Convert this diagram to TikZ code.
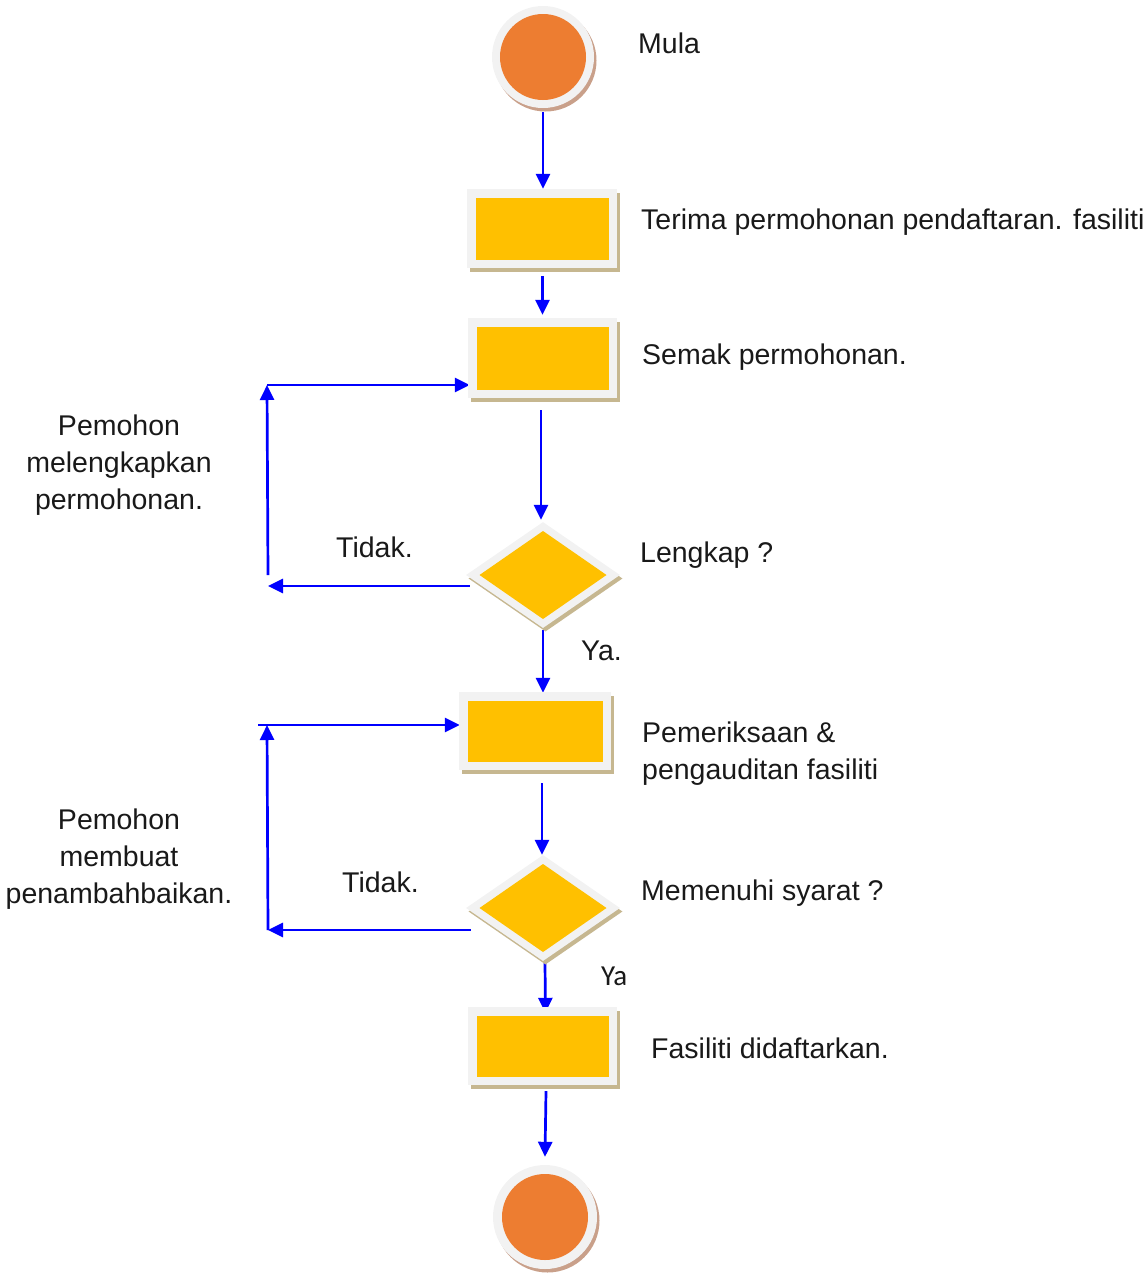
\documentclass[tikz,border=0pt]{standalone}
\usepackage{fontspec}
\setmainfont{Liberation Sans}
\newfontfamily\calfont{Carlito}
\usetikzlibrary{arrows.meta,shapes.geometric,shadows,backgrounds}
\definecolor{yel}{HTML}{FFC000}
\definecolor{orng}{HTML}{ED7D31}
\definecolor{lgray}{HTML}{F2F2F2}
\definecolor{bshadow}{HTML}{C6B790}
\definecolor{cshadow}{HTML}{C9A08A}
\definecolor{ablue}{HTML}{0000FF}
\begin{document}
\begin{tikzpicture}[x=1pt,y=-1pt,
  lbl/.style={font=\fontsize{28.5}{37}\selectfont, inner sep=0pt, text=black!90},
  termc/.style={circle, minimum size=102pt, inner sep=0pt, fill=lgray,
    drop shadow={shadow xshift=2.5pt, shadow yshift=-3.5pt, fill=cshadow, opacity=1},
    path picture={\fill[orng] (path picture bounding box.center) circle[radius=43pt];}},
  procbox/.style={rectangle, minimum width=150pt, minimum height=79pt, inner sep=0pt, fill=lgray,
    drop shadow={shadow xshift=2.5pt, shadow yshift=-3.5pt, fill=bshadow, opacity=1},
    path picture={\fill[yel] ([shift={(8.5pt,8.5pt)}]path picture bounding box.south west) rectangle ([shift={(-8.5pt,-8.5pt)}]path picture bounding box.north east);}},
  decbox/.style={diamond, minimum width=154pt, minimum height=106pt, inner sep=0pt, fill=lgray,
    drop shadow={shadow xshift=2.5pt, shadow yshift=-3.5pt, fill=bshadow, opacity=1},
    path picture={\fill[yel] ([yshift=44pt]path picture bounding box.center) -- ([xshift=63.5pt]path picture bounding box.center) -- ([yshift=-44pt]path picture bounding box.center) -- ([xshift=-63.5pt]path picture bounding box.center) -- cycle;}},
  conn/.style={draw=ablue, line width=2.7pt, -{Triangle[width=14pt,length=15pt]}}
]
\useasboundingbox (0,0) rectangle (1148,1275);

% shapes
\node[termc] (start) at (543,57) {};
\node[procbox] (b1) at (542,228.5) {};
\node[procbox, minimum width=149pt, minimum height=80pt] (b2) at (542.5,358) {};
\node[decbox] (d1) at (543,575) {};
\node[procbox, minimum width=152pt, minimum height=78pt] (b3) at (535,731) {};
\node[decbox] (d2) at (543,908) {};
\node[procbox, minimum width=149pt, minimum height=78pt] (b4) at (542.5,1046) {};
\node[termc, minimum size=104pt] (end) at (545,1217) {};

% loop coordinates
\coordinate (l1a) at (268,586);
\coordinate (l1b) at (268,575);
\coordinate (l1c) at (267,385);
\coordinate (l2a) at (268,930);
\coordinate (l2b) at (268,930);
\coordinate (l2c) at (267,725);
\coordinate (l2d) at (258,725);

\begin{scope}[on background layer]
\draw[conn] ([yshift=-4pt]start.south) -- ([xshift=1pt]b1.north);
\draw[conn] ([xshift=0.5pt,yshift=-8pt]b1.south) -- ([yshift=3pt]b2.north);
\draw[conn] ([xshift=-1.5pt,yshift=-12pt]b2.south) -- ([xshift=-2pt,yshift=2pt]d1.north);
\draw[conn] ([yshift=-2pt]d1.south) -- ([xshift=8pt,yshift=-1pt]b3.north);
\draw[conn] ([xshift=7pt,yshift=-13pt]b3.south) -- ([xshift=-1pt]d2.north);
\draw[conn] ([xshift=2pt,yshift=-2pt]d2.south) -- ([xshift=3pt,yshift=-6pt]b4.north);
\draw[conn] ([xshift=3.5pt,yshift=-6pt]b4.south) -- ([yshift=8pt]end.north);
% loop 1
\draw[conn] ([xshift=4pt,yshift=-11pt]d1.west) -- (l1a);
\draw[conn] (l1b) -- (l1c);
\draw[conn] (l1c) -- ([xshift=2pt]b2.west |- l1c);
% loop 2
\draw[conn] ([xshift=5pt,yshift=-22pt]d2.west) -- (l2a);
\draw[conn] (l2b) -- (l2c);
\draw[conn] (l2d) -- ([xshift=1pt]b3.west |- l2d);
\end{scope}

% labels
\node[lbl, anchor=base west] (tmula) at (638,53) {Mula};
\node[lbl, anchor=base west] (tterima) at (641,229) {Terima permohonan pendaftaran. fasiliti};
\node[lbl, anchor=base west] (tsemak) at (642,364) {Semak permohonan.};
\node[lbl, anchor=base west] (tlengkap) at (640,562) {Lengkap ?};
\node[lbl, anchor=base west] (tya1) at (581,660) {Ya.};
\node[lbl, anchor=base west] (tperiksa1) at (642,742) {Pemeriksaan \&};
\node[lbl, anchor=base west] (tperiksa2) at (642,779) {pengauditan fasiliti};
\node[lbl, anchor=base west] (tsyarat) at (641,900) {Memenuhi syarat ?};
\node[lbl, anchor=base west, font=\calfont\fontsize{29}{36}\selectfont] (tya2) at (601,985) {Ya};
\node[lbl, anchor=base west] (tdaftar) at (651,1058) {Fasiliti didaftarkan.};
\node[lbl, anchor=base west] (ttidak1) at (336,557) {Tidak.};
\node[lbl, anchor=base west] (ttidak2) at (342,892) {Tidak.};
\node[lbl, align=center] (tleft1) at (119,465) {Pemohon\\melengkapkan\\permohonan.};
\node[lbl, align=center] (tleft2) at (119,859) {Pemohon\\membuat\\penambahbaikan.};
\end{tikzpicture}
\end{document}
